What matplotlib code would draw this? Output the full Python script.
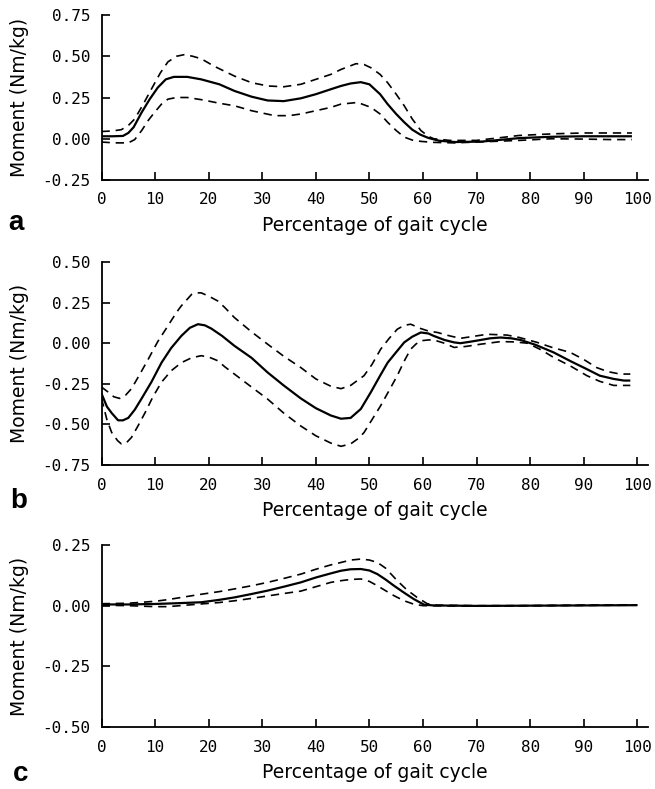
import matplotlib
matplotlib.use("Agg")
import matplotlib.pyplot as plt

# ---- data (x = % gait cycle, y = Nm/kg) ----
# panel a
a_mean_x = [0, 2, 4, 5, 6, 7.5, 9, 10.5, 12, 13.5, 16, 18.6, 22, 24.8, 28, 31, 34, 37.2, 40, 42.8,
            44.7, 46.5, 48.4, 50, 52, 53.4, 55, 56.5, 58, 59.5, 61, 63, 66, 71, 75, 78, 84, 90, 95, 99]
a_mean_y = [0.015, 0.015, 0.017, 0.035, 0.07, 0.16, 0.24, 0.31, 0.36, 0.375, 0.375, 0.36, 0.33, 0.29,
            0.255, 0.232, 0.228, 0.245, 0.27, 0.30, 0.32, 0.335, 0.343, 0.33, 0.27, 0.21, 0.15, 0.10,
            0.055, 0.025, 0.005, -0.012, -0.02, -0.017, -0.005, 0.004, 0.012, 0.015, 0.015, 0.015]
a_up_x = [0, 2, 3.7, 5, 6.2, 7.8, 9.3, 11, 12.4, 14, 15.5, 17, 18.6, 21, 24.8, 28, 31, 34, 37.2, 40,
          42.8, 44.7, 47.5, 49, 50.3, 52, 53.4, 55, 56.5, 58, 59.6, 61, 62, 65, 70, 74, 78, 84.4, 90, 95, 99]
a_up_y = [0.044, 0.047, 0.055, 0.08, 0.12, 0.21, 0.30, 0.40, 0.466, 0.50, 0.51, 0.50, 0.485, 0.44, 0.38,
          0.34, 0.32, 0.315, 0.33, 0.36, 0.39, 0.42, 0.455, 0.45, 0.43, 0.39, 0.34, 0.27, 0.20, 0.12, 0.05,
          0.015, 0.0, -0.01, -0.01, 0.005, 0.02, 0.03, 0.035, 0.035, 0.035]
a_lo_x = [0, 2.5, 5, 6.2, 7.5, 8.7, 9.9, 11.2, 12.4, 14, 16, 19, 22, 24.8, 28, 32.3, 35, 37.2, 40, 42.8,
          44.7, 47.8, 50.3, 52, 53.4, 55, 56.5, 58, 59.6, 62, 65.8, 70, 78, 84, 90, 95, 99]
a_lo_y = [-0.02, -0.025, -0.025, -0.005, 0.05, 0.11, 0.16, 0.21, 0.24, 0.25, 0.25, 0.235, 0.215, 0.2,
          0.17, 0.14, 0.14, 0.15, 0.17, 0.19, 0.21, 0.22, 0.19, 0.15, 0.10, 0.05, 0.01, -0.008, -0.016,
          -0.022, -0.025, -0.02, -0.01, 0.0, -0.002, -0.005, -0.005]

# panel b
b_mean_x = [0, 1, 1.9, 3.1, 4, 5, 6.2, 7.5, 9.3, 11.2, 13, 14.9, 16.5, 18, 19.3, 20.5, 22.5, 24.8, 28, 31,
            34, 37.2, 40, 42.8, 44.7, 46.5, 48.4, 50.3, 52, 53.4, 55, 56.5, 58, 59.6, 61, 62, 64, 65.8, 67,
            69, 70.8, 72.5, 74.5, 76.5, 78.2, 81, 84.4, 87.5, 90.6, 93, 95.6, 97.5, 98.7]
b_mean_y = [-0.31, -0.39, -0.43, -0.475, -0.475, -0.46, -0.41, -0.34, -0.24, -0.12, -0.03, 0.045, 0.095,
            0.117, 0.11, 0.09, 0.045, -0.016, -0.09, -0.18, -0.26, -0.34, -0.40, -0.445, -0.465, -0.46,
            -0.405, -0.30, -0.2, -0.12, -0.055, 0.005, 0.04, 0.066, 0.06, 0.045, 0.02, 0.005, 0.0, 0.01,
            0.02, 0.03, 0.035, 0.03, 0.02, -0.01, -0.057, -0.11, -0.16, -0.2, -0.22, -0.23, -0.23]
b_up_x = [0, 1.2, 2.3, 3.4, 4.5, 5.6, 7, 8.7, 10.5, 12.4, 14, 14.9, 16.8, 17.5, 18.6, 20, 21.7, 23, 24.8,
          28, 31, 34, 37.2, 40, 42.8, 44.7, 46.5, 49, 50.5, 52.1, 53.7, 55.2, 56.5, 57.7, 59.6, 61, 62.7,
          65, 67, 69, 72, 75.7, 78, 81.3, 84, 87.5, 90, 92.4, 94.5, 96.8, 98.7]
b_up_y = [-0.27, -0.30, -0.33, -0.34, -0.32, -0.28, -0.20, -0.10, 0.01, 0.107, 0.19, 0.23, 0.30, 0.31,
          0.31, 0.29, 0.26, 0.22, 0.158, 0.07, -0.006, -0.08, -0.15, -0.22, -0.265, -0.28, -0.26, -0.2,
          -0.13, -0.037, 0.03, 0.086, 0.11, 0.117, 0.09, 0.075, 0.066, 0.045, 0.03, 0.04, 0.055, 0.05,
          0.035, 0.005, -0.025, -0.057, -0.10, -0.15, -0.175, -0.19, -0.19]
b_lo_x = [0, 1, 1.9, 3, 3.7, 4.6, 5.6, 6.8, 8.1, 9.6, 11.2, 13, 14.9, 16.8, 18.6, 20, 21.7, 23, 24.8, 28,
          31, 34, 37.2, 40, 42.8, 44.7, 46.5, 48, 49, 50.5, 52.1, 53.7, 55.2, 56.5, 57.7, 58.7, 59.6, 61,
          62, 64, 65.8, 68, 70.8, 74.5, 77, 79.5, 82, 84.4, 87.5, 90.6, 93, 95.6, 98.7]
b_lo_y = [-0.34, -0.47, -0.55, -0.60, -0.62, -0.615, -0.58, -0.51, -0.43, -0.33, -0.24, -0.17, -0.12,
          -0.09, -0.077, -0.085, -0.108, -0.145, -0.19, -0.27, -0.344, -0.43, -0.51, -0.57, -0.615,
          -0.635, -0.62, -0.585, -0.55, -0.47, -0.385, -0.29, -0.2, -0.11, -0.037, -0.005, 0.015, 0.02,
          0.02, 0.0, -0.026, -0.02, -0.006, 0.01, 0.008, 0.0, -0.04, -0.088, -0.14, -0.2, -0.235, -0.26,
          -0.26]

# panel c
c_mean_x = [0, 5, 10, 14, 18.6, 22, 24.8, 28, 31, 34, 37.2, 40, 42.8, 44.7, 46.5, 48.4, 50, 51.5, 53,
            54.6, 56.5, 58.3, 60.2, 62, 70, 80, 90, 100]
c_mean_y = [0.005, 0.005, 0.007, 0.01, 0.014, 0.024, 0.034, 0.048, 0.062, 0.078, 0.096, 0.116, 0.133,
            0.144, 0.15, 0.151, 0.145, 0.13, 0.108, 0.082, 0.053, 0.027, 0.004, 0.001, -0.001, 0.0,
            0.001, 0.002]
c_up_x = [0, 5, 10, 12.4, 18, 22, 24.8, 28, 31, 34, 37.2, 40, 42.8, 44.7, 46.5, 48.4, 50, 51.5, 53,
          55.2, 57, 58.9, 60.8, 62.5, 70, 80, 90, 100]
c_up_y = [0.008, 0.01, 0.018, 0.025, 0.045, 0.058, 0.069, 0.082, 0.096, 0.112, 0.13, 0.15, 0.168, 0.178,
          0.188, 0.192, 0.188, 0.178, 0.155, 0.103, 0.065, 0.034, 0.008, 0.002, 0.0, 0.0, 0.002, 0.003]
c_lo_x = [0, 5, 10, 12.4, 18, 22, 24.8, 28, 31, 34, 37.2, 40, 42.8, 44.7, 46.5, 48.4, 50, 51.5, 53,
          54.6, 56.5, 58.3, 60, 70, 80, 90, 100]
c_lo_y = [0.002, 0.0, -0.004, -0.004, 0.006, 0.013, 0.02, 0.03, 0.04, 0.05, 0.06, 0.078, 0.096, 0.103,
          0.108, 0.11, 0.1, 0.082, 0.062, 0.041, 0.02, 0.006, 0.0, -0.002, 0.0, 0.001, 0.002]

x_ticks = [0, 10, 20, 30, 40, 50, 60, 70, 80, 90, 100]
a_yticks = [-0.25, 0.0, 0.25, 0.5, 0.75]
b_yticks = [-0.75, -0.5, -0.25, 0.0, 0.25, 0.5]
c_yticks = [-0.5, -0.25, 0.0, 0.25]

W, H = 655, 789
fig = plt.figure(figsize=(W / 100, H / 100), dpi=100)

panels = [
    ("a", (15, 180), a_yticks, (a_mean_x, a_mean_y), (a_up_x, a_up_y), (a_lo_x, a_lo_y), (8, 230)),
    ("b", (262, 465), b_yticks, (b_mean_x, b_mean_y), (b_up_x, b_up_y), (b_lo_x, b_lo_y), (10, 508)),
    ("c", (545, 727), c_yticks, (c_mean_x, c_mean_y), (c_up_x, c_up_y), (c_lo_x, c_lo_y), (13, 781)),
]

left_px, right_px = 101.5, 648
for letter, (top, bot), yt, mean, up, lo, (lx, ly) in panels:
    ax = fig.add_axes([left_px / W, 1 - bot / H, (right_px - left_px) / W, (bot - top) / H])
    ax.plot(mean[0], mean[1], color="black", lw=1.6, solid_capstyle="butt")
    for xs, ys in (up, lo):
        ax.plot(xs, ys, color="black", lw=1.2, dashes=(5, 3.5))
    ax.set_xlim(0, 102)
    ax.set_ylim(yt[0], yt[-1])
    for s in ("top", "right"):
        ax.spines[s].set_visible(False)
    for s in ("left", "bottom"):
        ax.spines[s].set_linewidth(1.3)
    ax.set_xticks(x_ticks)
    ax.set_xticklabels([str(t) for t in x_ticks])
    ax.set_yticks(yt)
    ax.set_yticklabels(["%.2f" % t for t in yt])
    ax.tick_params(direction="in", length=6, width=1.2, pad=9, labelsize=11.5)
    ax.tick_params(axis="y", pad=8)
    for lab in ax.get_xticklabels() + ax.get_yticklabels():
        lab.set_fontfamily("DejaVu Sans Mono")
    ax.set_xlabel("Percentage of gait cycle", fontsize=13.5, labelpad=6)
    fig.text(19.5 / W, 1 - (top + bot) / 2 / H, "Moment (Nm/kg)", rotation=90,
             ha="center", va="center", fontsize=13.5)
    fig.text(lx / W, 1 - ly / H, letter, fontsize=20, fontweight="bold",
             family="Liberation Sans", ha="left", va="baseline")

fig.savefig("out.png", dpi=100)
